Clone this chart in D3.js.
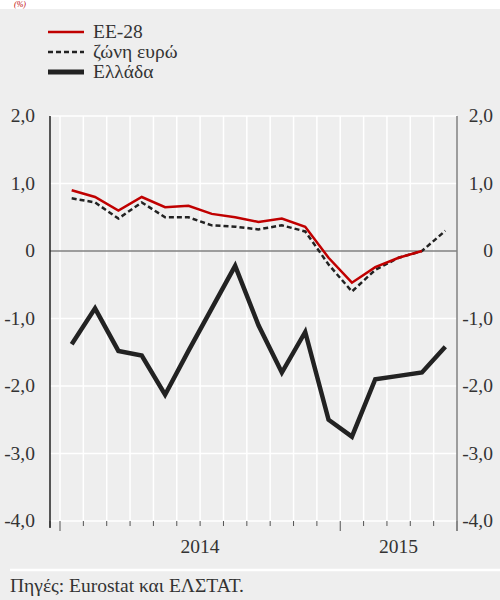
<!DOCTYPE html>
<html><head><meta charset="utf-8">
<script src="https://cdn.jsdelivr.net/npm/d3@7"></script>
<style>
html,body{margin:0;padding:0;background:#fff;}
svg{display:block;}
svg text{font-family:"Liberation Serif","DejaVu Serif",serif;}
</style></head>
<body>
<svg id="c" width="500" height="600"></svg>
<script>
const months = ["2014-01","2014-02","2014-03","2014-04","2014-05","2014-06","2014-07","2014-08","2014-09","2014-10","2014-11","2014-12","2015-01","2015-02","2015-03","2015-04","2015-05"];
const ee28 =   [0.9, 0.8, 0.6, 0.8, 0.65, 0.67, 0.55, 0.5, 0.43, 0.48, 0.36, -0.1, -0.47, -0.24, -0.1, 0.0];
const euro =   [0.78, 0.72, 0.48, 0.72, 0.5, 0.5, 0.38, 0.36, 0.32, 0.38, 0.29, -0.2, -0.6, -0.28, -0.1, 0.0, 0.3];
const greece = [-1.38, -0.85, -1.48, -1.55, -2.13, -1.48, -0.85, -0.22, -1.1, -1.8, -1.2, -2.5, -2.75, -1.9, -1.85, -1.8, -1.42];
const yTicks = [2, 1, 0, -1, -2, -3, -4];
const yTickLabels = ["2,0","1,0","0","-1,0","-2,0","-3,0","-4,0"];
const years = [{label:"2014", start:0, end:12},{label:"2015", start:12, end:17}];
const legendItems = ["ΕΕ-28","ζώνη ευρώ","Ελλάδα"];

const svg = d3.select("#c");
const L = 50, R = 457, T = 116, B = 521;
const FS = 19.5;

svg.append("rect").attr("width",500).attr("height",600).attr("fill","#eeeeee");
svg.append("rect").attr("width",500).attr("height",9).attr("fill","#ffffff");
svg.append("text").attr("x",14).attr("y",7).attr("fill","#c00000")
  .attr("font-style","italic").attr("font-size",8).text("(%)");

const x = d3.scaleLinear().domain([-10/23.33, months.length]).range([L, R]);
const y = d3.scaleLinear().domain([-4, 2]).range([B, T]);

const g = svg.append("g");
g.selectAll(".hg").data(yTicks.filter(v=>v!==0)).enter().append("line")
  .attr("x1",L).attr("x2",R).attr("y1",d=>y(d)).attr("y2",d=>y(d))
  .attr("stroke","#ffffff").attr("stroke-width",1.5);
g.selectAll(".vg").data(d3.range(0, months.length)).enter().append("line")
  .attr("x1",d=>x(d)).attr("x2",d=>x(d)).attr("y1",T).attr("y2",B)
  .attr("stroke","#ffffff").attr("stroke-width",1.5);

g.append("line").attr("x1",L).attr("x2",R).attr("y1",y(0)).attr("y2",y(0))
  .attr("stroke","#808080").attr("stroke-width",1.5);

const tickIdx = d3.range(0, months.length+1);
g.selectAll(".xt").data(tickIdx).enter().append("line")
  .attr("x1",d=>x(d)).attr("x2",d=>x(d)).attr("y1",B)
  .attr("y2",d=> (d===0||d===12||d===17) ? B+10 : B+5)
  .attr("stroke","#555").attr("stroke-width",1);
g.append("line").attr("x1",L).attr("x2",L).attr("y1",B).attr("y2",B+6).attr("stroke","#555");

g.append("line").attr("x1",L).attr("x2",L).attr("y1",T).attr("y2",B+7)
  .attr("stroke","#222").attr("stroke-width",1.5);
g.append("line").attr("x1",R).attr("x2",R).attr("y1",T).attr("y2",B+10)
  .attr("stroke","#808080").attr("stroke-width",1.5);

yTicks.forEach((v,i)=>{
  svg.append("text").attr("x",35).attr("y",y(v)+6).attr("text-anchor","end")
    .attr("font-size",FS).attr("fill","#333").text(yTickLabels[i]);
  svg.append("text").attr("x",493).attr("y",y(v)+6).attr("text-anchor","end")
    .attr("font-size",FS).attr("fill","#333").text(yTickLabels[i]);
});

years.forEach(yr=>{
  svg.append("text").attr("x",x((yr.start+yr.end)/2)).attr("y",B+32).attr("text-anchor","middle")
    .attr("font-size",FS).attr("fill","#333").text(yr.label);
});

const line = d3.line().x((d,i)=>x(i+0.5)).y(d=>y(d));
svg.append("path").datum(greece).attr("d",line).attr("fill","none")
  .attr("stroke","#222").attr("stroke-width",4.5);
svg.append("path").datum(euro).attr("d",line).attr("fill","none")
  .attr("stroke","#222").attr("stroke-width",2.5).attr("stroke-dasharray","5,3");
svg.append("path").datum(ee28).attr("d",line).attr("fill","none")
  .attr("stroke","#c00000").attr("stroke-width",2.5);

const lg = svg.append("g");
const styles = [{c:"#c00000",w:2.5,d:null},{c:"#222",w:2.5,d:"5,3"},{c:"#222",w:5,d:null}];
legendItems.forEach((t,i)=>{
  const yy = 32 + i*20;
  lg.append("line").attr("x1",48).attr("x2",84).attr("y1",yy).attr("y2",yy)
    .attr("stroke",styles[i].c).attr("stroke-width",styles[i].w).attr("stroke-dasharray",styles[i].d);
  lg.append("text").attr("x",93).attr("y",yy+6).attr("font-size",FS)
    .attr("fill","#333").text(t);
});

svg.append("line").attr("x1",10).attr("x2",500).attr("y1",570).attr("y2",570)
  .attr("stroke","#ffffff").attr("stroke-width",2.5);
svg.append("text").attr("x",10).attr("y",592).attr("font-size",FS)
  .attr("fill","#333").text("Πηγές: Eurostat και ΕΛΣΤΑΤ.");
</script>
</body></html>
